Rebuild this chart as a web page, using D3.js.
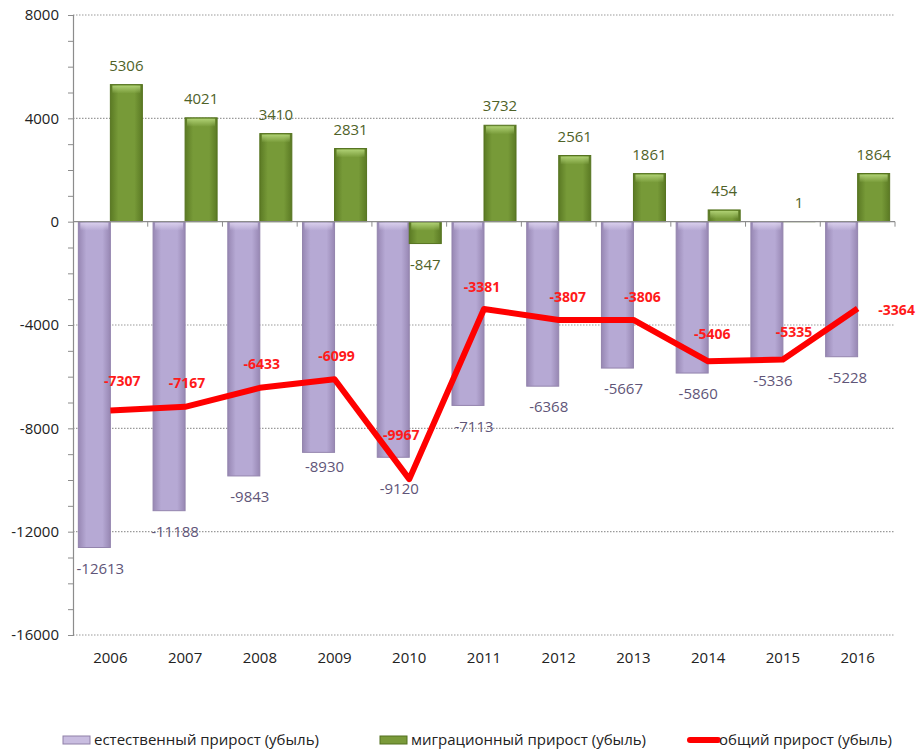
<!DOCTYPE html>
<html>
<head>
<meta charset="utf-8">
<script src="https://cdn.jsdelivr.net/npm/d3@7"></script>
<style>
  body { margin: 0; background: #fff; }
  svg text { font-family: "Open Sans", "Noto Sans", sans-serif; }
</style>
</head>
<body>
<div id="chart"></div>
<script>
// данные
const years = ["2006", "2007", "2008", "2009", "2010", "2011", "2012", "2013", "2014", "2015", "2016"];
const naturalGrowth = [-12613, -11188, -9843, -8930, -9120, -7113, -6368, -5667, -5860, -5336, -5228];
const migrationGrowth = [5306, 4021, 3410, 2831, -847, 3732, 2561, 1861, 454, 1, 1864];
const totalGrowth = [-7307, -7167, -6433, -6099, -9967, -3381, -3807, -3806, -5406, -5335, -3364];
const yTicks = [8000, 4000, 0, -4000, -8000, -12000, -16000];
const legendNames = ["естественный прирост (убыль)", "миграционный прирост (убыль)", "общий прирост (убыль)"];

const width = 920, height = 754;
const plotLeft = 73, plotRight = 895, plotTop = 15, plotBottom = 635;

const svg = d3.select('#chart').append('svg')
    .attr('width', width)
    .attr('height', height);

const defs = svg.append('defs');
function barGradient(id, edge, mid) {
    const gr = defs.append('linearGradient').attr('id', id)
        .attr('x1', '0%').attr('x2', '100%').attr('y1', '0%').attr('y2', '0%');
    gr.append('stop').attr('offset', '0%').attr('stop-color', edge);
    gr.append('stop').attr('offset', '25%').attr('stop-color', mid);
    gr.append('stop').attr('offset', '75%').attr('stop-color', mid);
    gr.append('stop').attr('offset', '100%').attr('stop-color', edge);
}
barGradient('gradPurple', '#9787b3', '#b6a9d4');
barGradient('gradGreen', '#5b7a24', '#779a38');

// блик на торце столбца
function capGradient(id, color, flip) {
    const gr = defs.append('linearGradient').attr('id', id)
        .attr('x1', '0%').attr('x2', '0%').attr('y1', flip ? '100%' : '0%').attr('y2', flip ? '0%' : '100%');
    gr.append('stop').attr('offset', '0%').attr('stop-color', color).attr('stop-opacity', 0.9);
    gr.append('stop').attr('offset', '100%').attr('stop-color', color).attr('stop-opacity', 0);
}
capGradient('capPurple', '#ddd3ef', false);
capGradient('capGreenUp', '#b5d67a', false);
capGradient('capGreenDown', '#b5d67a', false);

const x = d3.scaleBand().domain(years).range([plotLeft, plotRight]);
const xi = d3.scaleBand().domain(['nat', 'mig']).range([0, x.bandwidth()])
    .paddingInner(0).paddingOuter(0.167);
const y = d3.scaleLinear().domain([-16000, 8000]).range([plotBottom, plotTop]);

// сетка
svg.append('g')
    .selectAll('line')
    .data(yTicks.filter(d => d !== 0))
    .join('line')
    .attr('x1', plotLeft).attr('x2', plotRight)
    .attr('y1', d => y(d)).attr('y2', d => y(d))
    .style('stroke', '#9a9a9a')
    .style('stroke-width', 1.2)
    .style('stroke-dasharray', '1.5,1.5');

// ось Y
const yAxis = svg.append('g')
    .attr('transform', `translate(${plotLeft},0)`)
    .call(d3.axisLeft(y).tickValues(d3.range(-16000, 8001, 1000)).tickSize(5).tickFormat(d => yTicks.includes(d) ? d : ''));
yAxis.select('.domain').style('stroke', '#8c8c8c').style('stroke-width', 1.2);
yAxis.selectAll('.tick line').style('stroke', '#8c8c8c');
yAxis.selectAll('.tick text')
    .attr('x', -14)
    .style('font-size', '15px')
    .style('fill', '#222');

// столбцы
const nat = svg.append('g').selectAll('g')
    .data(years.map((yr, i) => ({ yr, v: naturalGrowth[i] })))
    .join('g');
nat.append('rect')
    .attr('x', d => x(d.yr) + xi('nat'))
    .attr('width', xi.bandwidth())
    .attr('y', d => y(Math.max(0, d.v)))
    .attr('height', d => Math.abs(y(d.v) - y(0)))
    .style('fill', 'url(#gradPurple)')
    .style('stroke', '#9384ad')
    .style('stroke-width', 1);
nat.append('rect')
    .attr('x', d => x(d.yr) + xi('nat') + 2)
    .attr('width', xi.bandwidth() - 4)
    .attr('y', d => y(0) + 1)
    .attr('height', 8)
    .style('fill', 'url(#capPurple)');

const mig = svg.append('g').selectAll('g')
    .data(years.map((yr, i) => ({ yr, v: migrationGrowth[i] })))
    .join('g');
mig.append('rect')
    .attr('x', d => x(d.yr) + xi('mig'))
    .attr('width', xi.bandwidth())
    .attr('y', d => y(Math.max(0, d.v)))
    .attr('height', d => Math.abs(y(d.v) - y(0)))
    .style('fill', 'url(#gradGreen)')
    .style('stroke', '#55731f')
    .style('stroke-width', 1);
mig.filter(d => Math.abs(y(d.v) - y(0)) > 4).append('rect')
    .attr('x', d => x(d.yr) + xi('mig') + 2)
    .attr('width', xi.bandwidth() - 4)
    .attr('y', d => d.v > 0 ? y(d.v) + 1 : y(0) + 1)
    .attr('height', d => Math.min(8, Math.abs(y(d.v) - y(0)) - 2))
    .style('fill', 'url(#capGreenUp)');

// ось X
svg.append('line')
    .attr('x1', plotLeft).attr('x2', plotRight)
    .attr('y1', y(0)).attr('y2', y(0))
    .style('stroke', '#8c8c8c')
    .style('stroke-width', 1.2);
svg.append('g').selectAll('line')
    .data(years.slice(1).concat(['end']))
    .join('line')
    .attr('x1', d => d === 'end' ? plotRight : x(d))
    .attr('x2', d => d === 'end' ? plotRight : x(d))
    .attr('y1', y(0)).attr('y2', y(0) + 5)
    .style('stroke', '#8c8c8c');
svg.append('g').selectAll('text')
    .data(years)
    .join('text')
    .attr('x', d => x(d) + x.bandwidth() / 2)
    .attr('y', plotBottom + 28)
    .attr('text-anchor', 'middle')
    .style('font-size', '15px')
    .style('fill', '#222')
    .text(d => d);

// линия общего прироста
const line = d3.line()
    .x((d, i) => x(years[i]) + x.bandwidth() / 2)
    .y(d => y(d));
svg.append('path')
    .datum(totalGrowth)
    .attr('d', line)
    .style('fill', 'none')
    .style('stroke', '#ff0000')
    .style('stroke-width', 6)
    .style('stroke-linejoin', 'round');

// подписи
svg.append('g').selectAll('text')
    .data(years.map((yr, i) => ({ yr, v: migrationGrowth[i] })))
    .join('text')
    .attr('x', d => x(d.yr) + xi('mig') + xi.bandwidth() / 2)
    .attr('y', d => d.v >= 0 ? y(d.v) - 14 : y(d.v) + 26)
    .attr('text-anchor', 'middle')
    .style('font-size', '15px')
    .style('fill', '#4f6228')
    .text(d => d.v);

const natDy = [21, 21, 21, 15, 32, 22, 21, 21, 21, 21, 21];
svg.append('g').selectAll('text')
    .data(years.map((yr, i) => ({ yr, v: naturalGrowth[i], i })))
    .join('text')
    .attr('x', d => x(d.yr) + xi('nat') + xi.bandwidth() / 2 + 6)
    .attr('y', d => y(d.v) + natDy[d.i] + 5)
    .attr('text-anchor', 'middle')
    .style('font-size', '15px')
    .style('fill', '#5f5578')
    .text(d => d.v);

const totDx = [12, 2, 2, 2, -8, -2, 9, 9, 4, 11, 39];
const totDy = [-29, -24, -24, -23, -44, -22, -23, -23, -27, -27, 1];
svg.append('g').selectAll('text')
    .data(totalGrowth.map((v, i) => ({ v, i })))
    .join('text')
    .attr('x', d => x(years[d.i]) + x.bandwidth() / 2 + totDx[d.i])
    .attr('y', d => y(d.v) + totDy[d.i] + 5)
    .attr('text-anchor', 'middle')
    .style('font-size', '14px')
    .style('font-weight', 'bold')
    .style('fill', '#ff1a1a')
    .text(d => d.v);

// легенда
const legend = svg.append('g').attr('transform', 'translate(0,740)');
const legX = [63, 380, 690];
legend.append('rect').attr('x', legX[0]).attr('y', -4).attr('width', 27).attr('height', 8)
    .style('fill', '#c9bde0').style('stroke', '#8f80a8');
legend.append('rect').attr('x', legX[1]).attr('y', -4).attr('width', 27).attr('height', 8)
    .style('fill', '#7a9a3a').style('stroke', '#53701f');
legend.append('line').attr('x1', legX[2]).attr('x2', legX[2] + 28).attr('y1', 0).attr('y2', 0)
    .style('stroke', '#ff0000').style('stroke-width', 6).style('stroke-linecap', 'round');
legend.selectAll('text.leg')
    .data(legendNames)
    .join('text')
    .attr('class', 'leg')
    .attr('x', (d, i) => legX[i] + (i === 2 ? 29 : 31))
    .attr('y', 5)
    .style('font-size', '15px')
    .style('fill', '#222')
    .text(d => d);
</script>
</body>
</html>
